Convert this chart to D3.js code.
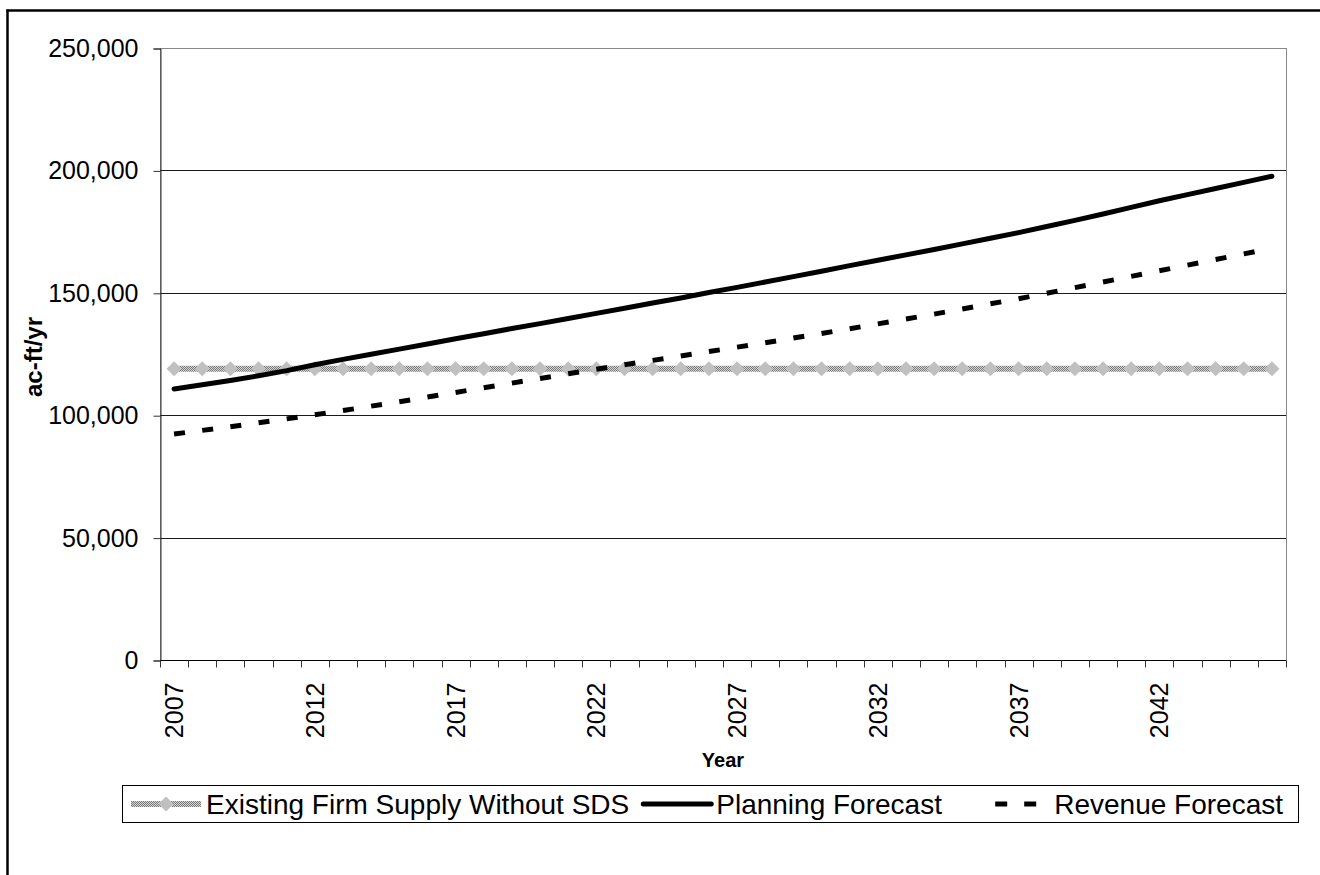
<!DOCTYPE html>
<html>
<head>
<meta charset="utf-8">
<script src="https://cdn.jsdelivr.net/npm/d3@7/dist/d3.min.js"></script>
<style>
  html, body { margin: 0; padding: 0; background: #fff; overflow: hidden; }
  svg { display: block; font-family: Arial, "Liberation Sans", sans-serif; }
</style>
</head>
<body>
<svg id="chart" width="1320" height="875"></svg>
<script>
// Water demand forecasts vs. existing firm supply (ac-ft/yr)
const years = d3.range(2007, 2047);
const existingSupply = years.map(() => 119000);
const planningForecast = [
  110700, 112400, 114200, 116100, 118200, 120600, 122800, 124900, 127000, 129100,
  131200, 133300, 135400, 137400, 139500, 141600, 143700, 145800, 147900, 150100,
  152200, 154400, 156600, 158800, 161100, 163300, 165500, 167700, 170000, 172300,
  174600, 177100, 179600, 182200, 184900, 187600, 190100, 192600, 195100, 197600
];
const revenueForecast = [
  92300, 93800, 95300, 96900, 98500, 100200, 101900, 103700, 105500, 107400,
  109300, 111200, 113100, 115000, 116900, 118800, 120600, 122400, 124200, 126000,
  127800, 129600, 131500, 133400, 135300, 137300, 139300, 141300, 143400, 145500,
  147600, 149800, 152100, 154400, 156700, 159000, 161300, 163600, 165900, 168200
];
const yTicks = [0, 50000, 100000, 150000, 200000, 250000];
const xLabelYears = [2007, 2012, 2017, 2022, 2027, 2032, 2037, 2042];
const seriesNames = ["Existing Firm Supply Without SDS", "Planning Forecast", "Revenue Forecast"];

const svg = d3.select("#chart");
const plot = { left: 160, right: 1286, top: 48, bottom: 660 };

// textured grey fill used for the supply line
const defs = svg.append("defs");
const pat = defs.append("pattern").attr("id", "hatch")
  .attr("patternUnits", "userSpaceOnUse").attr("width", 2).attr("height", 2);
pat.append("rect").attr("width", 2).attr("height", 2).attr("fill", "#d4d4d4");
pat.append("rect").attr("width", 1).attr("height", 1).attr("fill", "#7a7a7a");
pat.append("rect").attr("x", 1).attr("y", 1).attr("width", 1).attr("height", 1).attr("fill", "#7a7a7a");

// outer chart frame (top and left edges fall inside the canvas)
svg.append("line").attr("x1", 6.5).attr("x2", 1320).attr("y1", 10.5).attr("y2", 10.5)
  .attr("stroke", "#000").attr("stroke-width", 2.5);
svg.append("line").attr("x1", 7.5).attr("x2", 7.5).attr("y1", 9.5).attr("y2", 875)
  .attr("stroke", "#000").attr("stroke-width", 2.5);

const x = d3.scaleBand().domain(years).range([plot.left, plot.right]).padding(0);
const y = d3.scaleLinear().domain([0, 250000]).range([plot.bottom, plot.top]);
const cx = d => x(d) + x.bandwidth() / 2;

// plot area border
svg.append("rect")
  .attr("x", plot.left + 0.5).attr("y", plot.top + 0.5)
  .attr("width", plot.right - plot.left).attr("height", plot.bottom - plot.top)
  .attr("fill", "none").attr("stroke", "#888").attr("stroke-width", 1);

// horizontal gridlines
svg.append("g").selectAll("line")
  .data(yTicks.filter(t => t > 0 && t < 250000))
  .join("line")
  .attr("x1", plot.left).attr("x2", plot.right)
  .attr("y1", d => Math.round(y(d)) + 0.5).attr("y2", d => Math.round(y(d)) + 0.5)
  .attr("stroke", "#1a1a1a").attr("stroke-width", 1);

// y axis
const yAxis = d3.axisLeft(y).tickValues(yTicks).tickSize(7).tickPadding(15)
  .tickFormat(d3.format(","));
const gy = svg.append("g").attr("transform", `translate(${plot.left + 0.5},0.5)`).call(yAxis);
gy.select(".domain").attr("stroke", "#333");
gy.selectAll(".tick line").attr("stroke", "#333");
gy.selectAll(".tick text").attr("font-size", 25).attr("fill", "#000")
  .attr("font-family", "Arial, 'Liberation Sans', sans-serif");

// x axis: ticks on category boundaries, labels every fifth year
const gx = svg.append("g").attr("transform", `translate(0,${plot.bottom + 0.5})`);
gx.append("line").attr("x1", plot.left).attr("x2", plot.right)
  .attr("stroke", "#000").attr("stroke-width", 1);
gx.selectAll("line.tk")
  .data(years.concat([years[years.length - 1] + 1]))
  .join("line").attr("class", "tk")
  .attr("x1", (d, i) => Math.round(plot.left + i * x.bandwidth()) + 0.5)
  .attr("x2", (d, i) => Math.round(plot.left + i * x.bandwidth()) + 0.5)
  .attr("y1", 0).attr("y2", 7).attr("stroke", "#333");
gx.selectAll("text")
  .data(xLabelYears)
  .join("text")
  .attr("transform", d => `translate(${cx(d) + 9},22) rotate(-90)`)
  .attr("text-anchor", "end")
  .attr("font-size", 25)
  .text(d => d);

// axis titles
svg.append("text").attr("x", 723).attr("y", 767).attr("text-anchor", "middle")
  .attr("font-size", 20).attr("font-weight", "bold").text("Year");
svg.append("text").attr("transform", "translate(42,357) rotate(-90)")
  .attr("text-anchor", "middle").attr("font-size", 24).attr("font-weight", "bold").text("ac-ft/yr");

// existing firm supply: textured line with diamond markers
const line = d3.line().x((d, i) => cx(years[i])).y(d => y(d));
svg.append("path").datum(existingSupply).attr("d", line)
  .attr("fill", "none").attr("stroke", "url(#hatch)").attr("stroke-width", 6);
const diamond = "M0,-7.5L7.5,0L0,7.5L-7.5,0Z";
svg.append("g").selectAll("path")
  .data(existingSupply)
  .join("path")
  .attr("transform", (d, i) => `translate(${cx(years[i])},${y(d)})`)
  .attr("d", diamond).attr("fill", "#c0c0c0");

// planning forecast: solid heavy line
svg.append("path").datum(planningForecast).attr("d", line)
  .attr("fill", "none").attr("stroke", "#000").attr("stroke-width", 5)
  .attr("stroke-linejoin", "round").attr("stroke-linecap", "round");

// revenue forecast: one dash per yearly segment
const segs = d3.pairs(revenueForecast.map((v, i) => [cx(years[i]), y(v)]));
svg.append("g").selectAll("line")
  .data(segs)
  .join("line")
  .attr("x1", d => d[0][0]).attr("y1", d => d[0][1])
  .attr("x2", d => d[1][0]).attr("y2", d => d[1][1])
  .attr("stroke", "#000").attr("stroke-width", 5)
  .attr("stroke-dasharray", "11,100");

// legend: entries laid out left to right, each symbol followed by its label
const lg = svg.append("g");
lg.append("rect").attr("x", 122.5).attr("y", 785.5).attr("width", 1176).attr("height", 37)
  .attr("fill", "#fff").attr("stroke", "#000").attr("stroke-width", 1);
const ly = 804;
const legendFont = 28;
const symW = 70;
function legendSymbol(i, x0) {
  if (i === 0) {
    lg.append("line").attr("x1", x0).attr("x2", x0 + symW).attr("y1", ly).attr("y2", ly)
      .attr("stroke", "url(#hatch)").attr("stroke-width", 6);
    lg.append("path").attr("transform", `translate(${x0 + symW / 2},${ly})`)
      .attr("d", diamond).attr("fill", "#c0c0c0");
  } else if (i === 1) {
    lg.append("line").attr("x1", x0 + 2).attr("x2", x0 + symW).attr("y1", ly).attr("y2", ly)
      .attr("stroke", "#000").attr("stroke-width", 5).attr("stroke-linecap", "round");
  } else {
    lg.append("line").attr("x1", x0 + 16).attr("x2", x0 + symW).attr("y1", ly).attr("y2", ly)
      .attr("stroke", "#000").attr("stroke-width", 5).attr("stroke-dasharray", "12,17");
  }
}
// first two entries flow from the left; the last one is right-aligned in the box
let cursor = 131;
seriesNames.slice(0, 2).forEach((name, i) => {
  legendSymbol(i, cursor);
  const t = lg.append("text").attr("x", cursor + symW + 5).attr("y", ly + 10)
    .attr("font-size", legendFont).text(name);
  cursor += symW + 5 + t.node().getComputedTextLength() + 12;
});
const last = lg.append("text").attr("x", 1283).attr("y", ly + 10).attr("text-anchor", "end")
  .attr("font-size", legendFont).text(seriesNames[2]);
legendSymbol(2, 1283 - last.node().getComputedTextLength() - 5 - symW);
</script>
</body>
</html>
